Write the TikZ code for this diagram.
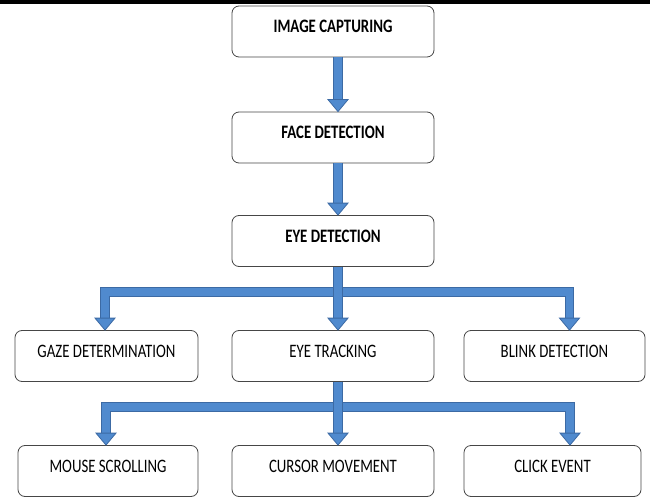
\documentclass[tikz,border=0pt]{standalone}
\usepackage{fontspec}
\setmainfont{Carlito}[FakeStretch=0.78]
\usetikzlibrary{calc}
\definecolor{arrowfill}{RGB}{80,138,206}
\definecolor{arrowline}{RGB}{60,106,164}
\definecolor{boxline}{RGB}{70,70,70}
\tikzset{
  box/.style={draw=boxline, line width=0.8pt, rounded corners=7pt, fill=white,
    minimum height=51pt, text height=9pt, text depth=7pt, inner sep=0pt,
    font=\fontsize{19}{22}\selectfont},
  bbox/.style={box, font=\fontsize{19}{22}\selectfont\bfseries},
  shaft/.style={draw=arrowline, line width=0.8pt, double=arrowfill, double distance=7.6pt, line join=miter},
  headst/.style={draw=arrowline, fill=arrowfill, line width=0.8pt, line join=miter},
}
\begin{document}
\begin{tikzpicture}[x=1pt,y=-1pt]
\useasboundingbox (0,0) rectangle (650,497);
\fill[black] (0,0) rectangle (650,4);
% boxes
\node[bbox, minimum width=202pt] (cap) at (333,31.5) {IMAGE CAPTURING};
\node[bbox, minimum width=202pt] (face) at (333,137.5) {FACE DETECTION};
\node[bbox, minimum width=202pt] (eyedet) at (333,241) {EYE DETECTION};
\node[box, minimum width=183pt] (gaze) at (106.5,356) {GAZE DETERMINATION};
\node[box, minimum width=202pt] (track) at (333,356) {EYE TRACKING};
\node[box, minimum width=181pt] (blink) at (554.5,356) {BLINK DETECTION};
\node[box, minimum width=180pt] (mouse) at (108,471) {MOUSE SCROLLING};
\node[box, minimum width=202pt] (cursor) at (333,471) {CURSOR MOVEMENT};
\node[box, minimum width=177pt] (click) at (552.5,471) {CLICK EVENT};
% target points
\coordinate (tface) at ($(face.north)+(5,0)$);
\coordinate (teye) at ($(eyedet.north)+(5,0)$);
\coordinate (tgaze) at ($(gaze.north)+(-1.5,0)$);
\coordinate (ttrack) at ($(track.north)+(5,0)$);
\coordinate (tblink) at ($(blink.north)+(15,0)$);
\coordinate (tmouse) at ($(mouse.north)+(-2,0)$);
\coordinate (tcursor) at ($(cursor.north)+(5,0)$);
\coordinate (tclick) at ($(click.north)+(17.5,0)$);
\coordinate (bar1) at (338,292);
\coordinate (bar2) at (338,407);
% straight arrows
\draw[shaft] ($(cap.south)+(5,0)$) -- ($(tface)+(0,-11)$);
\draw[headst] ($(tface)+(-10,-12)$) -- (tface) -- ($(tface)+(10,-12)$) -- cycle;
\draw[shaft] ($(face.south)+(5,0)$) -- ($(teye)+(0,-11)$);
\draw[headst] ($(teye)+(-10,-12)$) -- (teye) -- ($(teye)+(10,-12)$) -- cycle;
% first branch
\draw[shaft] ($(eyedet.south)+(5,0)$) -- (bar1) -| ($(tgaze)+(0,-11)$);
\draw[headst] ($(tgaze)+(-10,-12)$) -- (tgaze) -- ($(tgaze)+(10,-12)$) -- cycle;
\draw[shaft] ($(eyedet.south)+(5,0)$) -- (bar1) -| ($(tblink)+(0,-11)$);
\draw[headst] ($(tblink)+(-10,-12)$) -- (tblink) -- ($(tblink)+(10,-12)$) -- cycle;
\draw[shaft] ($(eyedet.south)+(5,0)$) -- ($(ttrack)+(0,-11)$);
\draw[headst] ($(ttrack)+(-10,-12)$) -- (ttrack) -- ($(ttrack)+(10,-12)$) -- cycle;
% second branch
\draw[shaft] ($(track.south)+(5,0)$) -- (bar2) -| ($(tmouse)+(0,-11)$);
\draw[headst] ($(tmouse)+(-10,-12)$) -- (tmouse) -- ($(tmouse)+(10,-12)$) -- cycle;
\draw[shaft] ($(track.south)+(5,0)$) -- (bar2) -| ($(tclick)+(0,-11)$);
\draw[headst] ($(tclick)+(-10,-12)$) -- (tclick) -- ($(tclick)+(10,-12)$) -- cycle;
\draw[shaft] ($(track.south)+(5,0)$) -- ($(tcursor)+(0,-11)$);
\draw[headst] ($(tcursor)+(-10,-12)$) -- (tcursor) -- ($(tcursor)+(10,-12)$) -- cycle;
\end{tikzpicture}
\end{document}
